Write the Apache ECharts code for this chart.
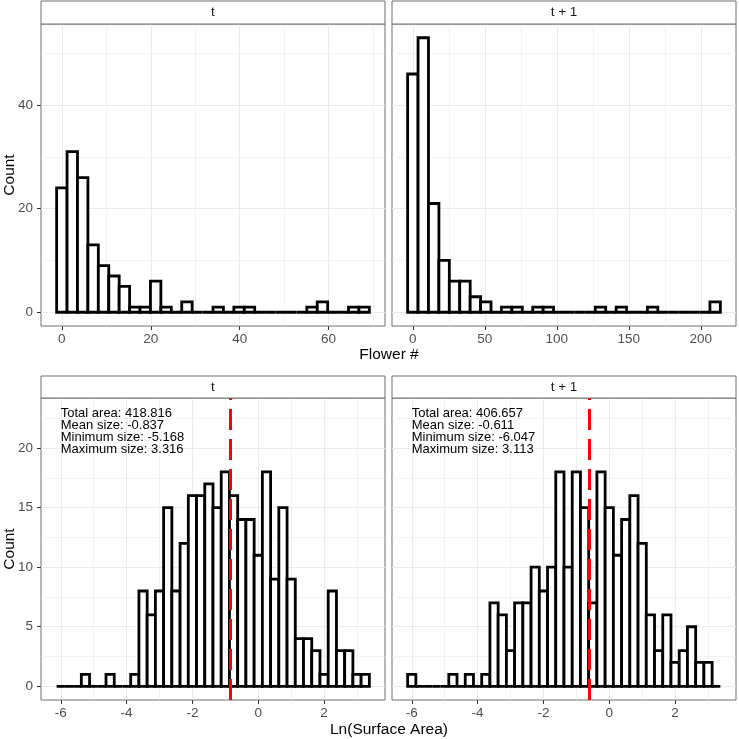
<!DOCTYPE html>
<html><head><meta charset="utf-8">
<script src="https://cdn.jsdelivr.net/npm/echarts@6/dist/echarts.min.js"></script>
<style>html,body{margin:0;padding:0;background:#fff}#c{width:739px;height:739px}</style>
</head><body><div id="c"></div>
<script>
const FONT = '"Liberation Sans", Arial, Helvetica, sans-serif';

// ---------- Top row: Flower # (30 bins per panel) ----------
const flowerT_range = [0, 68];
const flowerT_counts = [24,31,26,13,9,7,5,1,1,6,1,0,2,0,0,1,0,1,1,0,0,0,0,0,1,2,0,0,1,1];
const flowerT1_range = [0, 210];
const flowerT1_counts = [46,53,21,10,6,6,3,2,0,1,1,0,1,1,0,0,0,0,1,0,1,0,0,1,0,0,0,0,0,2];
const flowerT_ticks = [0, 20, 40, 60];
const flowerT1_ticks = [0, 50, 100, 150, 200];
const flowerCountTicks = [0, 20, 40];

// ---------- Bottom row: Ln(Surface Area), binwidth 0.25 ----------
const sizeBinWidth = 0.25;
const sizeBinCenters = [-6,-5.75,-5.5,-5.25,-5,-4.75,-4.5,-4.25,-4,-3.75,-3.5,-3.25,-3,-2.75,-2.5,-2.25,-2,-1.75,-1.5,-1.25,-1,-0.75,-0.5,-0.25,0,0.25,0.5,0.75,1,1.25,1.5,1.75,2,2.25,2.5,2.75,3,3.25];
const sizeT_counts  = [0,0,0,1,0,0,1,0,0,1,8,6,8,15,8,12,16,16,17,15,18,16,14,14,11,18,9,15,9,4,4,3,1,8,3,3,1,1];
const sizeT1_counts = [1,0,0,0,0,1,0,1,0,1,7,6,3,7,7,10,8,10,18,10,18,15,7,18,15,11,14,16,12,6,3,6,2,3,5,2,2,0];
const sizeTicks = [-6, -4, -2, 0, 2];
const sizeCountTicks = [0, 5, 10, 15, 20];
const meanT = -0.837, meanT1 = -0.611;
const statsT  = ['Total area: 418.816', 'Mean size: -0.837', 'Minimum size: -5.168', 'Maximum size: 3.316'];
const statsT1 = ['Total area: 406.657', 'Mean size: -0.611', 'Minimum size: -6.047', 'Maximum size: 3.113'];
const panelTitles = ['t', 't + 1'];

// histogram bin centres for bins=30 spanning [min,max]
function binCenters(range, n) {
  const w = (range[1] - range[0]) / (n - 1);
  const out = [];
  for (let k = 0; k < n; k++) out.push(range[0] + k * w);
  return {centers: out, width: w};
}
const fT = binCenters(flowerT_range, flowerT_counts.length);
const fT1 = binCenters(flowerT1_range, flowerT1_counts.length);

// layout (px)
const L1 = 41, L2 = 392, PW = 344, T1 = 24, T2 = 398, PH = 302;
const BORDER = '#6e6e6e';
const grids = [
  {left: L1, top: T1, width: PW, height: PH},
  {left: L2, top: T1, width: PW, height: PH},
  {left: L1, top: T2, width: PW, height: PH},
  {left: L2, top: T2, width: PW, height: PH}
].map(g => Object.assign(g, {show: true, borderColor: BORDER, borderWidth: 1, backgroundColor: 'transparent', containLabel: false}));

const GRID = '#ebebeb';
const TICKFONT = 13.5;
function xAxis(gi, min, max, split, ticks) {
  return {
    gridIndex: gi, type: 'value', min: min, max: max, splitNumber: split,
    axisLine: {show: false, onZero: false},
    axisTick: {show: true, length: 4, lineStyle: {color: '#333', width: 1}, customValues: ticks},
    axisLabel: {customValues: ticks, color: '#4d4d4d', fontSize: TICKFONT, fontFamily: FONT, margin: 6},
    splitLine: {show: true, lineStyle: {color: GRID, width: 1}},
    minorTick: {show: false, splitNumber: 2},
    minorSplitLine: {show: true, lineStyle: {color: GRID, width: 0.6}}
  };
}
function yAxis(gi, min, max, split, ticks, showLabels) {
  return {
    gridIndex: gi, type: 'value', min: min, max: max, splitNumber: split,
    axisLine: {show: false, onZero: false},
    axisTick: {show: showLabels, length: 4, lineStyle: {color: '#333', width: 1}, customValues: ticks},
    axisLabel: {show: showLabels, customValues: ticks, color: '#4d4d4d', fontSize: TICKFONT, fontFamily: FONT, margin: 8},
    splitLine: {show: true, lineStyle: {color: GRID, width: 1}},
    minorTick: {show: false, splitNumber: 2},
    minorSplitLine: {show: true, lineStyle: {color: GRID, width: 0.6}}
  };
}

function histRender(binW) {
  return function (params, api) {
    const x = api.value(0), c = api.value(1);
    const p0 = api.coord([x - binW / 2, 0]);
    const p1 = api.coord([x + binW / 2, c]);
    return {
      type: 'rect',
      shape: {x: p0[0], y: p1[1], width: p1[0] - p0[0], height: p0[1] - p1[1]},
      style: {fill: '#ffffff', stroke: '#000000', lineWidth: 2.8}
    };
  };
}
function histSeries(gi, centers, counts, binW, mean) {
  const s = {
    type: 'custom', xAxisIndex: gi, yAxisIndex: gi,
    renderItem: histRender(binW),
    data: centers.map((c, i) => [c, counts[i]]),
    silent: true, clip: false
  };
  if (mean !== undefined) {
    s.markLine = {
      silent: true, symbol: ['none', 'none'], label: {show: false}, animation: false,
      lineStyle: {color: '#ff0000', width: 3, type: [21, 9]},
      data: [{xAxis: mean}]
    };
  }
  return s;
}
function statsSeries(gi, lines) {
  return {
    type: 'custom', xAxisIndex: gi, yAxisIndex: gi, silent: true, clip: false,
    data: [[-6, 23.4]],
    renderItem: function (params, api) {
      const p = api.coord([api.value(0), api.value(1)]);
      return {
        type: 'text', x: p[0], y: p[1],
        style: {text: lines.join('\n'), font: '13px ' + FONT, fill: '#000', align: 'left', verticalAlign: 'top', lineHeight: 12}
      };
    }
  };
}

const gfx = [];
function strip(left, top, h, txt) {
  gfx.push({type: 'rect', shape: {x: left, y: top, width: PW, height: h}, style: {fill: '#fff', stroke: BORDER, lineWidth: 1}, z: 10});
  gfx.push({type: 'text', x: left + PW / 2, y: top + h / 2, style: {text: txt, font: '13.5px ' + FONT, fill: '#1a1a1a', align: 'center', verticalAlign: 'middle'}, z: 11});
}
strip(L1, 1, 23, panelTitles[0]);
strip(L2, 1, 23, panelTitles[1]);
strip(L1, 376, 22, panelTitles[0]);
strip(L2, 376, 22, panelTitles[1]);
const titleFont = '15.5px ' + FONT;
gfx.push({type: 'text', x: 389, y: 355, style: {text: 'Flower #', font: titleFont, fill: '#000', align: 'center', verticalAlign: 'middle'}});
gfx.push({type: 'text', x: 389, y: 730, style: {text: 'Ln(Surface Area)', font: titleFont, fill: '#000', align: 'center', verticalAlign: 'middle'}});
gfx.push({type: 'text', x: 9.5, y: 175, rotation: Math.PI / 2, style: {text: 'Count', font: titleFont, fill: '#000', align: 'center', verticalAlign: 'middle'}});
gfx.push({type: 'text', x: 9.5, y: 549, rotation: Math.PI / 2, style: {text: 'Count', font: titleFont, fill: '#000', align: 'center', verticalAlign: 'middle'}});

const topY = [-2.65, 55.65];
const botY = [-1.15, 24.2];
const botX = [-6.6, 3.85];

const option = {
  animation: false,
  backgroundColor: '#fff',
  grid: grids,
  xAxis: [
    xAxis(0, -4.69, 72.69, 4, flowerT_ticks),
    xAxis(1, -14.48, 224.48, 4, flowerT1_ticks),
    xAxis(2, botX[0], botX[1], 5, sizeTicks),
    xAxis(3, botX[0], botX[1], 5, sizeTicks)
  ],
  yAxis: [
    yAxis(0, topY[0], topY[1], 3, flowerCountTicks, true),
    yAxis(1, topY[0], topY[1], 3, flowerCountTicks, false),
    yAxis(2, botY[0], botY[1], 5, sizeCountTicks, true),
    yAxis(3, botY[0], botY[1], 5, sizeCountTicks, false)
  ],
  series: [
    histSeries(0, fT.centers, flowerT_counts, fT.width),
    histSeries(1, fT1.centers, flowerT1_counts, fT1.width),
    histSeries(2, sizeBinCenters, sizeT_counts, sizeBinWidth, meanT),
    histSeries(3, sizeBinCenters, sizeT1_counts, sizeBinWidth, meanT1),
    statsSeries(2, statsT),
    statsSeries(3, statsT1)
  ],
  graphic: gfx
};
const chart = echarts.init(document.getElementById('c'), null, {renderer: 'canvas'});
chart.setOption(option);
</script></body></html>
